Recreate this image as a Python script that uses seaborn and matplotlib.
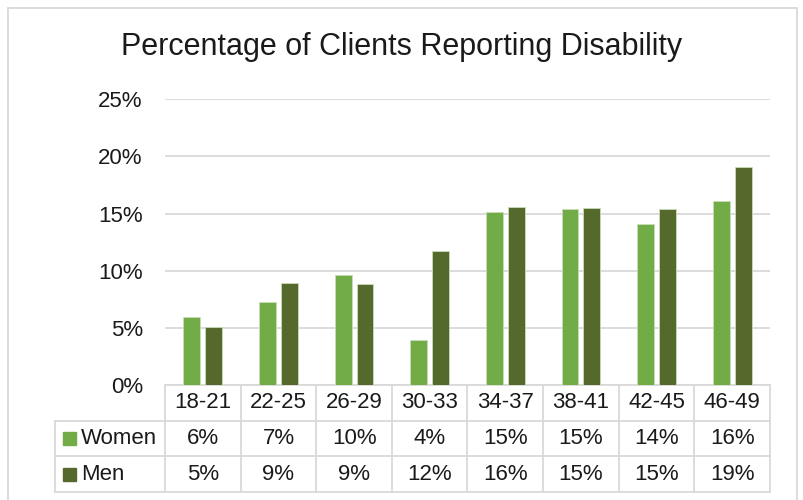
import matplotlib
matplotlib.use("Agg")
import matplotlib.pyplot as plt
from matplotlib.patches import Rectangle
import pandas as pd
import seaborn as sns

# values (percent)
age_groups = ["18-21", "22-25", "26-29", "30-33", "34-37", "38-41", "42-45", "46-49"]
women = [5.98, 7.30, 9.60, 3.91, 15.14, 15.38, 14.10, 16.10]
men = [5.04, 8.93, 8.82, 11.72, 15.55, 15.45, 15.36, 19.10]
series = ["Women", "Men"]
colors = {"Women": "#71AC47", "Men": "#55692C"}
yticks = [0, 5, 10, 15, 20, 25]
title = "Percentage of Clients Reporting Disability"

sns.set_theme(style="white")
plt.rcParams["font.family"] = ["Liberation Sans", "DejaVu Sans"]

W, H = 804, 500
GRID = "#D9D9D9"
TXT = "#1A1A1A"
FS = 16
fig = plt.figure(figsize=(W / 100, H / 100), dpi=100)


def box(x0, y0, x1, y1):
    # pixel box, origin top-left -> figure fraction rect
    return [x0 / W, 1 - y1 / H, (x1 - x0) / W, (y1 - y0) / H]


# outer chart frame
fig.patches.append(Rectangle((8 / W, -0.05), (797 - 8) / W, 1 - 8 / H + 0.05,
                             transform=fig.transFigure, fill=False, ec=GRID, lw=1.3))

fig.text(402 / W, 1 - 47 / H, title, ha="center", va="center", fontsize=22,
         color=TXT)

ax = fig.add_axes(box(165, 99.3, 770, 385))
df = pd.DataFrame({
    "age": age_groups * 2,
    "sex": [series[0]] * len(women) + [series[1]] * len(men),
    "pct": women + men,
})
sns.barplot(data=df, x="age", y="pct", hue="sex", hue_order=series, palette=colors,
            saturation=1, width=0.58, gap=0.23, ax=ax, legend=False,
            edgecolor="#C8DDB8", linewidth=0.6, zorder=3)
ax.set_xlim(-0.5, len(age_groups) - 0.5)
ax.set_ylim(0, 25)
ax.set_yticks(yticks)
ax.set_yticklabels([f"{t}%" for t in yticks], fontsize=FS, color=TXT)
ax.tick_params(axis="y", length=0, pad=16)
ax.set_xticks([])
ax.set_xlabel("")
ax.set_ylabel("")
ax.grid(axis="y", color=GRID, lw=1.3, zorder=0)
ax.set_axisbelow(True)
for s in ["top", "left", "right"]:
    ax.spines[s].set_visible(False)
ax.spines["bottom"].set_color(GRID)
ax.spines["bottom"].set_linewidth(1.3)

# data table under the plot
colw = 605 / len(age_groups)
tax = fig.add_axes(box(55, 385, 770, 492))
xl = -0.5 - 110 / colw
xr = len(age_groups) - 0.5
tax.set_xlim(xl, xr)
tax.set_ylim(3, 0)
tax.axis("off")
lk = dict(color=GRID, lw=1.3, clip_on=False, solid_capstyle="projecting")
for i in range(len(age_groups) + 1):
    tax.plot([i - 0.5, i - 0.5], [0, 3], **lk)
for r in [1, 2, 3]:
    tax.plot([xl, xr], [r, r], **lk)
tax.plot([xl, xl], [1, 3], **lk)

for i, a in enumerate(age_groups):
    tax.text(i, 0.5, a, ha="center", va="center", fontsize=FS, color=TXT)
    tax.text(i, 1.5, f"{round(women[i])}%", ha="center", va="center", fontsize=FS, color=TXT)
    tax.text(i, 2.5, f"{round(men[i])}%", ha="center", va="center", fontsize=FS, color=TXT)

row_h = 107 / 3
for r, name in enumerate(series, start=1):
    sq = 13
    tax.add_patch(Rectangle((xl + 8 / colw, r + 0.5 - sq / row_h / 2), sq / colw, sq / row_h,
                            color=colors[name], clip_on=False))
    tax.text(xl + 26 / colw, r + 0.5, name, ha="left", va="center", fontsize=FS, color=TXT)

fig.savefig("out.png", dpi=100)
